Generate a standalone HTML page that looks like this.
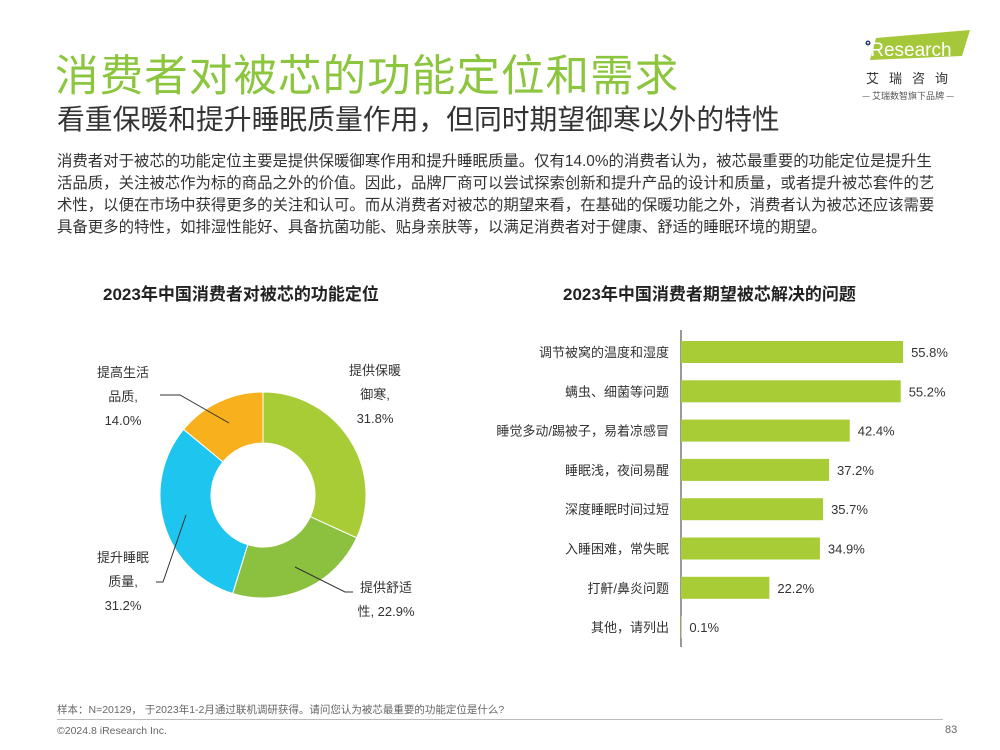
<!DOCTYPE html>
<html><head><meta charset="utf-8"><style>
body{margin:0;width:1000px;height:750px;background:#fff;font-family:"Liberation Sans","Noto Sans CJK SC",sans-serif;position:relative;overflow:hidden;color:#333}
.a{position:absolute;white-space:nowrap}
</style></head><body>
<div class="a" style="left:55px;top:40px;font-size:43.6px;color:#8cc63f;letter-spacing:1px">消费者对被芯的功能定位和需求</div>
<div class="a" style="left:57px;top:98px;font-size:27.8px;color:#333">看重保暖和提升睡眠质量作用，但同时期望御寒以外的特性</div>
<div class="a" style="left:862px;top:30px;width:110px;height:72px">
<svg width="110" height="72"><polygon points="14,8 108,0 100,26 8,30" fill="#a4c83a"/><circle cx="6" cy="13" r="2.5" fill="#2a3d7a"/><text x="4" y="26" font-size="19" fill="#fff" font-family="Liberation Sans">iResearch</text><text x="4" y="53" font-size="13" fill="#333" letter-spacing="10" font-family="Noto Sans CJK SC">艾瑞咨询</text><text x="0" y="69" font-size="9" fill="#555" font-family="Noto Sans CJK SC">— 艾瑞数智旗下品牌 —</text></svg></div>
<div class="a" style="left:57px;top:151px;width:882px;white-space:normal;font-size:15.4px;line-height:22px;color:#333">消费者对于被芯的功能定位主要是提供保暖御寒作用和提升睡眠质量。仅有14.0%的消费者认为，被芯最重要的功能定位是提升生活品质，关注被芯作为标的商品之外的价值。因此，品牌厂商可以尝试探索创新和提升产品的设计和质量，或者提升被芯套件的艺术性，以便在市场中获得更多的关注和认可。而从消费者对被芯的期望来看，在基础的保暖功能之外，消费者认为被芯还应该需要具备更多的特性，如排湿性能好、具备抗菌功能、贴身亲肤等，以满足消费者对于健康、舒适的睡眠环境的期望。</div>
<div class="a" style="left:103px;top:280px;font-size:17px;font-weight:bold;color:#222">2023年中国消费者对被芯的功能定位</div>
<div class="a" style="left:563px;top:280px;font-size:17px;font-weight:bold;color:#222">2023年中国消费者期望被芯解决的问题</div>
<svg id="donut" class="a" style="left:0;top:330px" width="480" height="330"></svg>
<svg id="bars" class="a" style="left:470px;top:325px" width="530" height="330"></svg>
<div class="a" style="left:57px;top:702px;font-size:10.5px;color:#666">样本：N=20129， 于2023年1-2月通过联机调研获得。请问您认为被芯最重要的功能定位是什么?</div>
<div class="a" style="left:57px;top:719px;width:886px;height:1px;background:#bbb"></div>
<div class="a" style="left:57px;top:725px;font-size:10.5px;color:#666">©2024.8 iResearch Inc.</div>
<div class="a" style="left:945px;top:724px;font-size:11px;color:#666">83</div>
<script>
const NS="http://www.w3.org/2000/svg";
const pieLabels=["提供保暖御寒","提供舒适性","提升睡眠质量","提高生活品质"];
const pieValues=[31.8,22.9,31.2,14.0];
const pieColors=["#a8cc35","#8cc13f","#1ec6ef","#f8b01c"];
const barCats=["调节被窝的温度和湿度","螨虫、细菌等问题","睡觉多动/踢被子，易着凉感冒","睡眠浅，夜间易醒","深度睡眠时间过短","入睡困难，常失眠","打鼾/鼻炎问题","其他，请列出"];
const barVals=[55.8,55.2,42.4,37.2,35.7,34.9,22.2,0.1];
function mk(t,a,p){const e=document.createElementNS(NS,t);for(const k in a)e.setAttribute(k,a[k]);p.appendChild(e);return e;}
const d=document.getElementById('donut');
const cx=263,cy=165,R=103,r=52;
const tot=pieValues.reduce((a,b)=>a+b,0);
let ang=0;
pieValues.forEach((v,i)=>{
 const a0=ang,a1=ang+v/tot*2*Math.PI;ang=a1;
 const p=(a,rr)=>[cx+rr*Math.sin(a),cy-rr*Math.cos(a)];
 const [x0,y0]=p(a0,R),[x1,y1]=p(a1,R),[x2,y2]=p(a1,r),[x3,y3]=p(a0,r);
 const lg=(a1-a0)>Math.PI?1:0;
 const s=mk('path',{d:`M${x0},${y0}A${R},${R} 0 ${lg} 1 ${x1},${y1}L${x2},${y2}A${r},${r} 0 ${lg} 0 ${x3},${y3}Z`,fill:pieColors[i],stroke:'#fff','stroke-width':1},d);
 
 
});
const labs=[[375,45,["提供保暖","御寒,",pieValues[0].toFixed(1)+"%"]],[386,262,["提供舒适","性, "+pieValues[1].toFixed(1)+"%"]],[123,232,["提升睡眠","质量,",pieValues[2].toFixed(1)+"%"]],[123,47,["提高生活","品质,",pieValues[3].toFixed(1)+"%"]]];
labs.forEach(l=>{l[2].forEach((t,j)=>{const e=mk('text',{x:l[0],y:l[1]+j*24,'font-size':13,fill:'#333','text-anchor':'middle'},d);e.textContent=t;
 
 });});
mk('polyline',{points:"295,237 345,262 353,262",fill:'none',stroke:'#333'},d);
mk('polyline',{points:"186,185 163,252 156,252",fill:'none',stroke:'#333'},d);
mk('polyline',{points:"229,93 180,65 160,65",fill:'none',stroke:'#333'},d);
const b=document.getElementById('bars');
const x0=211,sc=3.98,rowTop=27,rowH=39.3,bh=22;
mk('line',{x1:x0,y1:5,x2:x0,y2:322,stroke:'#333'},b);
barCats.forEach((c,i)=>{
 const yc=rowTop+i*rowH;
 const w=barVals[i]*sc;
 const rect=mk('rect',{x:x0,y:yc-bh/2,width:w,height:bh,fill:'#a8cc35'},b);
 
 
 const t=mk('text',{x:x0-12,y:yc+5,'font-size':13,fill:'#333','text-anchor':'end'},b);t.textContent=c;
 
 
 const v=mk('text',{x:x0+w+8,y:yc+5,'font-size':13,fill:'#333'},b);v.textContent=barVals[i].toFixed(1)+"%";
 
 
});
</script>
</body></html>
